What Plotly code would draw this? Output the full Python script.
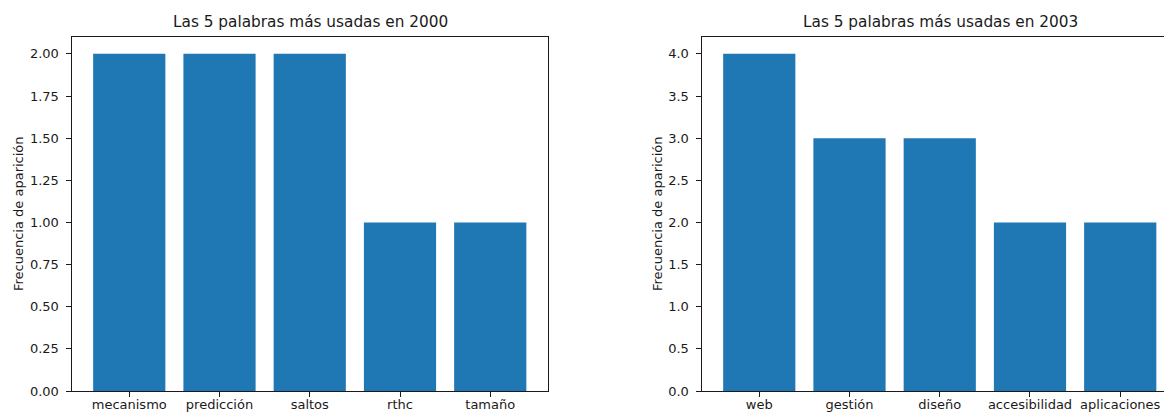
import plotly.graph_objects as go

# Top-5 word frequencies per year
palabras_2000 = ["mecanismo", "predicción", "saltos", "rthc", "tamaño"]
frecuencias_2000 = [2, 2, 2, 1, 1]

palabras_2003 = ["web", "gestión", "diseño", "accesibilidad", "aplicaciones"]
frecuencias_2003 = [4, 3, 3, 2, 2]

titulo_2000 = "Las 5 palabras más usadas en 2000"
titulo_2003 = "Las 5 palabras más usadas en 2003"
etiqueta_y = "Frecuencia de aparición"

W, H = 1164, 412
M_T, M_B = 37, 21
BAR_COLOR = "#1f77b4"
INK = "#1a1a1a"
FONT = "DejaVu Sans"

fig = go.Figure()
fig.add_trace(go.Bar(x=palabras_2000, y=frecuencias_2000, width=0.8,
                     marker=dict(color=BAR_COLOR, line=dict(width=0)),
                     xaxis="x", yaxis="y", showlegend=False))
fig.add_trace(go.Bar(x=palabras_2003, y=frecuencias_2003, width=0.8,
                     marker=dict(color=BAR_COLOR, line=dict(width=0)),
                     xaxis="x2", yaxis="y2", showlegend=False))

axis_common = dict(
    showgrid=False, zeroline=False, showline=True, linecolor=INK, linewidth=1,
    ticks="outside", ticklen=5, tickwidth=1, tickcolor=INK, automargin=False,
    tickfont=dict(family=FONT, size=13, color=INK),
)


def px_x(p):
    return p / W


left_dom = [px_x(71.5), px_x(548)]
right_dom = [px_x(701.5), 1.0]

fig.update_layout(
    width=W, height=H, autosize=False,
    margin=dict(l=0, r=0, t=M_T, b=M_B, pad=0, autoexpand=False),
    paper_bgcolor="white", plot_bgcolor="white",
    font=dict(family=FONT, color=INK),
    bargap=0.2,
    xaxis=dict(axis_common, domain=left_dom, type="category",
               range=[-0.64, 4.64], mirror=True, anchor="y",
               ticklabelstandoff=-4),
    yaxis=dict(axis_common, domain=[0, 1], range=[0, 2.1], dtick=0.25,
               tickformat=".2f", mirror=True, anchor="x",
               ticklabelstandoff=4),
    xaxis2=dict(axis_common, domain=right_dom, type="category",
                range=[-0.64, 4.485], mirror=True, anchor="y2",
                ticklabelstandoff=-4),
    yaxis2=dict(axis_common, domain=[0, 1], range=[0, 4.2], dtick=0.5,
                tickformat=".1f", mirror=False, anchor="x2",
                ticklabelstandoff=4),
)

plot_h = H - M_T - M_B


def py_y(p):
    return (H - M_B - p) / plot_h


annotations = [
    dict(text=titulo_2000, x=px_x(310), y=py_y(22), xref="paper", yref="paper",
         xanchor="center", yanchor="middle", showarrow=False,
         font=dict(family=FONT, size=15.3, color=INK)),
    dict(text=titulo_2003, x=px_x(940), y=py_y(22), xref="paper", yref="paper",
         xanchor="center", yanchor="middle", showarrow=False,
         font=dict(family=FONT, size=15.3, color=INK)),
    dict(text=etiqueta_y, x=px_x(18), y=py_y(214), xref="paper", yref="paper",
         xanchor="center", yanchor="middle", showarrow=False, textangle=-90,
         font=dict(family=FONT, size=13, color=INK)),
    dict(text=etiqueta_y, x=px_x(657), y=py_y(214), xref="paper", yref="paper",
         xanchor="center", yanchor="middle", showarrow=False, textangle=-90,
         font=dict(family=FONT, size=13, color=INK)),
]
fig.update_layout(annotations=annotations)

fig.write_html("out.html", config={"displayModeBar": False})
